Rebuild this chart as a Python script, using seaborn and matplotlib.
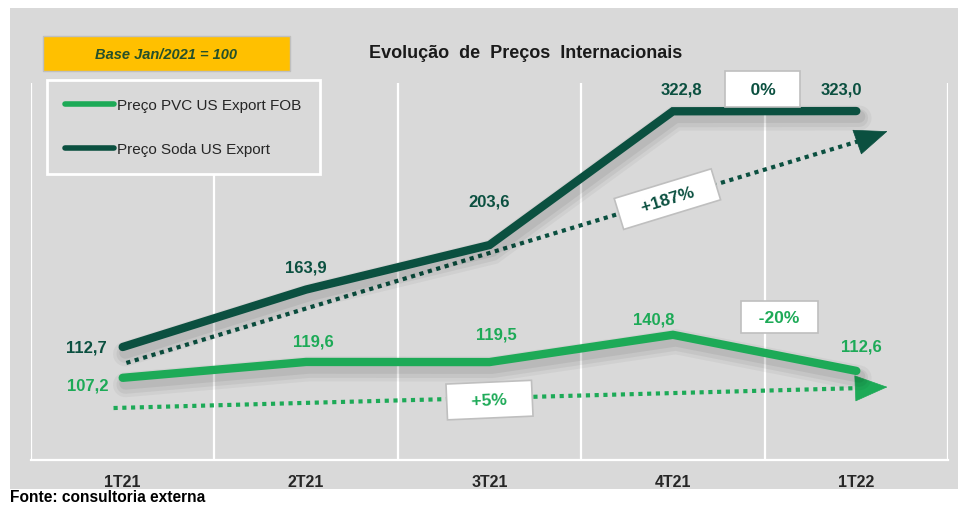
import matplotlib
matplotlib.use('Agg')
import matplotlib.pyplot as plt
import matplotlib.patheffects as pe
from matplotlib.patches import Rectangle
import numpy as np
import pandas as pd
import seaborn as sns

# Data (base Jan/2021 = 100).
quarters = ['1T21', '2T21', '3T21', '4T21', '1T22']
soda_values = [112.7, 163.9, 203.6, 322.8, 323.0]
pvc_values = [107.2, 119.6, 119.5, 140.8, 112.6]
soda_label = 'Preço Soda US Export'
pvc_label = 'Preço PVC US Export FOB'
soda_change = ['+187%', '0%']
pvc_change = ['+5%', '-20%']

df = pd.DataFrame({'pos': np.arange(len(quarters)), 'trimestre': quarters,
                   'soda': soda_values, 'pvc': pvc_values})

SODA = '#0B5040'
PVC = '#1DAA57'
GREY = '#D9D9D9'

sns.set_style('white', {'axes.facecolor': GREY})
plt.rcParams['font.family'] = ['Liberation Sans', 'DejaVu Sans']

W, H = 960, 506
fig = plt.figure(figsize=(W / 100, H / 100), dpi=100)

def fx(px):
    return px / W

def fy(py):
    return 1 - py / H

# Grey panel behind everything
fig.add_artist(Rectangle((fx(10), fy(490)), fx(948), (490 - 9) / H,
                         transform=fig.transFigure, facecolor=GREY,
                         edgecolor='none', zorder=-10))

ax = fig.add_axes([fx(31), fy(461), fx(948 - 31), (461 - 84) / H])
ax2 = ax.twinx()
ax2.patch.set_visible(False)

# soft shadow under the thick lines
shadow = [pe.SimpleLineShadow(offset=(2, -5), shadow_color='k', alpha=0.04, linewidth=18),
          pe.SimpleLineShadow(offset=(2, -5), shadow_color='k', alpha=0.05, linewidth=13),
          pe.SimpleLineShadow(offset=(2, -4), shadow_color='k', alpha=0.06, linewidth=9),
          pe.Normal()]

sns.lineplot(data=df, x='pos', y='soda', ax=ax, color=SODA, linewidth=6,
             solid_capstyle='round', solid_joinstyle='miter', label=soda_label,
             legend=False, path_effects=shadow, zorder=3)
sns.lineplot(data=df, x='pos', y='pvc', ax=ax2, color=PVC, linewidth=6,
             solid_capstyle='round', solid_joinstyle='miter', label=pvc_label,
             legend=False, path_effects=shadow, zorder=3)

ax.set_xlim(-0.5, 4.5)
ax.set_ylim(12, 348)
ax2.set_ylim(43, 337.5)

ax.set_xticks(df['pos'])
ax.set_xticklabels(quarters, fontsize=11.5, fontweight='bold')
ax.set_xticks(np.arange(-0.5, 5, 1), minor=True)
ax.tick_params(axis='x', which='both', length=0, pad=10)
ax.grid(axis='x', which='minor', color='white', linewidth=1.6)
ax.set_yticks([])
ax2.set_yticks([])
ax.set_xlabel('')
ax.set_ylabel('')
ax2.set_ylabel('')
for a in (ax, ax2):
    for s in ['top', 'left', 'right', 'bottom']:
        a.spines[s].set_visible(False)
ax.spines['bottom'].set_visible(True)
ax.spines['bottom'].set_color('white')
ax.spines['bottom'].set_linewidth(1.6)

# Value labels (offsets in points)
soda_off = [(-26, 0), (0, 16.5), (0, 31.5), (6, 16), (-11, 16)]
pvc_off = [(-25, -5), (5, 15), (5, 20), (-14, 11.5), (4, 18)]
for i, v in enumerate(soda_values):
    ax.annotate(f'{v:.1f}'.replace('.', ','), (i, v), xytext=soda_off[i],
                textcoords='offset points', ha='center', va='center',
                fontsize=12, fontweight='bold', color=SODA, zorder=5)
for i, v in enumerate(pvc_values):
    ax2.annotate(f'{v:.1f}'.replace('.', ','), (i, v), xytext=pvc_off[i],
                 textcoords='offset points', ha='center', va='center',
                 fontsize=12, fontweight='bold', color=PVC, zorder=5)

# Dotted trend arrows
def trend(a, start, base, tip, color):
    a.plot([start[0], base[0]], [start[1], base[1]], linestyle=(0, (1, 1.1)),
           linewidth=3, color=color, zorder=2)
    a.annotate('', xy=tip, xytext=base,
               arrowprops=dict(arrowstyle='-|>,head_length=1.5,head_width=0.6',
                               color=color, lw=0.5, shrinkA=0, shrinkB=0,
                               mutation_scale=15), zorder=2)

trend(ax, (0.02, 98.5), (4.05, 298), (4.17, 305), SODA)
trend(ax2, (-0.05, 83.6), (4.05, 99.3), (4.17, 100), PVC)

box = dict(boxstyle='square,pad=0.5', facecolor='white', edgecolor='#BFBFBF',
           linewidth=1.2)
ax.text(2.97, 244.5, '   ' + soda_change[0] + '   ', rotation=17, ha='center',
        va='center', fontsize=12.5, fontweight='bold', color=SODA, bbox=box,
        zorder=6)
ax.text(3.49, 342.5, '   ' + soda_change[1] + '   ', ha='center', va='center',
        fontsize=12.5, fontweight='bold', color=SODA,
        bbox=dict(box, boxstyle='square,pad=0.6'), zorder=6)
ax2.text(2.0, 89.8, '   ' + pvc_change[0] + '   ', rotation=2.5, ha='center',
         va='center', fontsize=12.5, fontweight='bold', color=PVC,
         bbox=dict(box, boxstyle='square,pad=0.6'), zorder=6)
ax2.text(3.58, 154.7, '  ' + pvc_change[1] + '  ', ha='center', va='center',
         fontsize=12.5, fontweight='bold', color=PVC, bbox=box, zorder=6)

# Legend
h1 = ax2.get_lines()[0]
h2 = ax.get_lines()[0]
leg = ax2.legend([h1, h2], [pvc_label, soda_label], loc='upper left',
                 bbox_to_anchor=(fx(47), fy(81)), bbox_transform=fig.transFigure,
                 borderaxespad=0, frameon=True, fancybox=False, facecolor=GREY,
                 framealpha=1, edgecolor='white', borderpad=1.2,
                 labelspacing=1.95, handlelength=3.2, handletextpad=0.2,
                 prop={'size': 11})
leg.get_frame().set_linewidth(2)
for ln in leg.get_lines():
    ln.set_linewidth(4)
    ln.set_path_effects([])
leg.set_zorder(10)

# Yellow base box
fig.add_artist(Rectangle((fx(43), fy(72)), fx(290 - 43), (72 - 37) / H,
                         transform=fig.transFigure, facecolor='#FFC000',
                         edgecolor='#BFBFBF', linewidth=1, zorder=1))
fig.text(fx(166), fy(55), 'Base Jan/2021 = 100', ha='center', va='center',
         fontsize=10.5, fontstyle='italic', fontweight='bold', color='#25502A')

fig.text(fx(526), fy(53), 'Evolução  de  Preços  Internacionais', ha='center',
         va='center', fontsize=13, fontweight='bold', color='#1A1A1A')
fig.text(fx(10), fy(498), 'Fonte: consultoria externa', ha='left',
         va='center', fontsize=11.2, fontweight='bold', color='black')

fig.savefig('out.png', dpi=100, facecolor='white')
